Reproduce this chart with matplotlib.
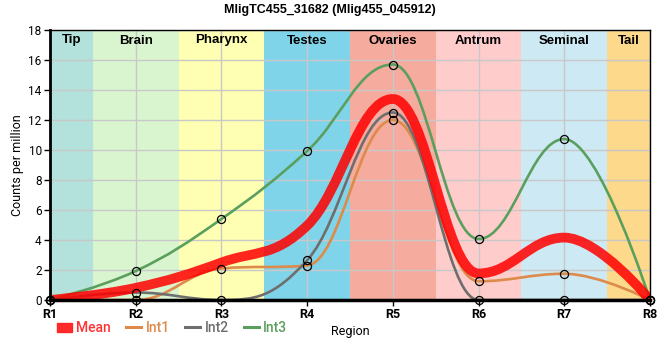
import numpy as np
import matplotlib
matplotlib.use("Agg")
import matplotlib.pyplot as plt
from matplotlib.path import Path
from matplotlib.patches import PathPatch, Patch
from matplotlib.lines import Line2D

# data
regions = ["R1", "R2", "R3", "R4", "R5", "R6", "R7", "R8"]
tissues = ["Tip", "Brain", "Pharynx", "Testes", "Ovaries", "Antrum", "Seminal", "Tail"]
tissue_colors = ["#b3e2dd", "#d9f5d0", "#ffffb3", "#80d4ea",
                 "#f5ab9e", "#ffcccc", "#cde9f3", "#fdd98b"]
int1 = [0.0, 0.0, 2.1, 2.3, 12.0, 1.25, 1.75, 0.0]
int2 = [0.0, 0.5, 0.0, 2.65, 12.5, 0.0, 0.0, 0.0]
int3 = [0.0, 1.93, 5.4, 9.93, 15.7, 4.07, 10.73, 0.0]
mean = [0.0, 0.81, 2.5, 4.96, 13.4, 1.77, 4.16, 0.0]


def spline_path(xs, ys):
    # highcharts-like smooth spline as cubic bezier segments
    n = len(xs)
    lc = [None] * n
    rc = [None] * n
    for i in range(n):
        x, y = xs[i], ys[i]
        if 0 < i < n - 1:
            px, py = xs[i - 1], ys[i - 1]
            nx, ny = xs[i + 1], ys[i + 1]
            lcx = (1.5 * x + px) / 2.5
            lcy = (1.5 * y + py) / 2.5
            rcx = (1.5 * x + nx) / 2.5
            rcy = (1.5 * y + ny) / 2.5
            if rcx != lcx:
                corr = ((rcy - lcy) * (rcx - x)) / (rcx - lcx) + y - rcy
                lcy += corr
                rcy += corr
            if lcy > py and lcy > y:
                lcy = max(py, y)
                rcy = 2 * y - lcy
            elif lcy < py and lcy < y:
                lcy = min(py, y)
                rcy = 2 * y - lcy
            if rcy > ny and rcy > y:
                rcy = max(ny, y)
                lcy = 2 * y - rcy
            elif rcy < ny and rcy < y:
                rcy = min(ny, y)
                lcy = 2 * y - rcy
            lc[i] = (lcx, lcy)
            rc[i] = (rcx, rcy)
        else:
            lc[i] = rc[i] = (x, y)
    verts = [(xs[0], ys[0])]
    codes = [Path.MOVETO]
    for i in range(1, n):
        verts += [rc[i - 1], lc[i], (xs[i], ys[i])]
        codes += [Path.CURVE4] * 3
    return Path(verts, codes)


fig = plt.figure(figsize=(6.6, 3.6), dpi=100)
ax = fig.add_axes([50 / 660, 60 / 360, 600 / 660, 270 / 360])
x = np.arange(1, len(regions) + 1)

for i, (name, c) in enumerate(zip(tissues, tissue_colors)):
    lo = max(x[i] - 0.5, 1)
    hi = min(x[i] + 0.5, len(regions))
    ax.axvspan(lo, hi, color=c, zorder=0.5, lw=0)
    ax.text((lo + hi) / 2, 17.3, name, ha="center", va="center",
            fontsize=9.5, fontweight="bold", family="Liberation Sans", zorder=5)

series = [("Int1", int1, "#dd8a4a", 1.9),
          ("Int2", int2, "#6e6e6e", 1.9),
          ("Int3", int3, "#5b9f5e", 1.9)]
ax.add_patch(PathPatch(spline_path(x, mean), fill=False, edgecolor="#ff0000",
                       alpha=0.85, lw=7, zorder=3, capstyle="round"))
for name, vals, c, lw in series:
    ax.add_patch(PathPatch(spline_path(x, vals), fill=False, edgecolor=c,
                           lw=lw, zorder=2.5))
    ax.plot(x, vals, "o", ms=5.8, mfc="none", mec="black", mew=0.9,
            zorder=6, clip_on=False)

ax.set_xlim(1, 8)
ax.set_ylim(0, 18)
ax.set_xticks(x)
ax.set_xticklabels(regions, family="Roboto", fontsize=9, fontweight="bold")
ax.set_yticks(np.arange(0, 19, 2))
ax.set_yticklabels([str(v) for v in range(0, 19, 2)], family="Roboto", fontsize=8.5)
ax.tick_params(axis="both", direction="out", length=4, width=1, pad=2)
ax.grid(True, color="#c8c8c8", lw=1)
ax.set_axisbelow("line")
for side, w in [("left", 2), ("bottom", 2.5), ("top", 1), ("right", 1)]:
    ax.spines[side].set_linewidth(w)
    ax.spines[side].set_color("black")
    ax.spines[side].set_zorder(4)

ax.set_ylabel("Counts per million", family="Roboto", fontsize=9, labelpad=3)
fig.text(350 / 660, 1 - 332 / 360, "Region", ha="center", va="center",
         family="Roboto", fontsize=9)
fig.suptitle("MligTC455_31682 (Mlig455_045912)", y=1 - 10 / 360, va="center",
             fontsize=9, fontweight="bold", family="Liberation Sans")

handles = [Patch(color="#ff2020", alpha=0.95)]
colors = ["#ff3333"]
for name, vals, c, lw in series:
    handles.append(Line2D([0], [0], color=c, lw=2.2))
    colors.append(c)
leg = fig.legend(handles, ["Mean", "Int1", "Int2", "Int3"], ncol=4,
                 loc="center left", bbox_to_anchor=(44 / 660, 1 - 328 / 360),
                 frameon=False, handlelength=1.1, handleheight=0.6,
                 handletextpad=0.3, columnspacing=1.1,
                 prop={"family": "Roboto", "size": 10, "weight": "medium"})
for t, c in zip(leg.get_texts(), colors):
    t.set_color(c)

fig.savefig("out.png", dpi=100)
